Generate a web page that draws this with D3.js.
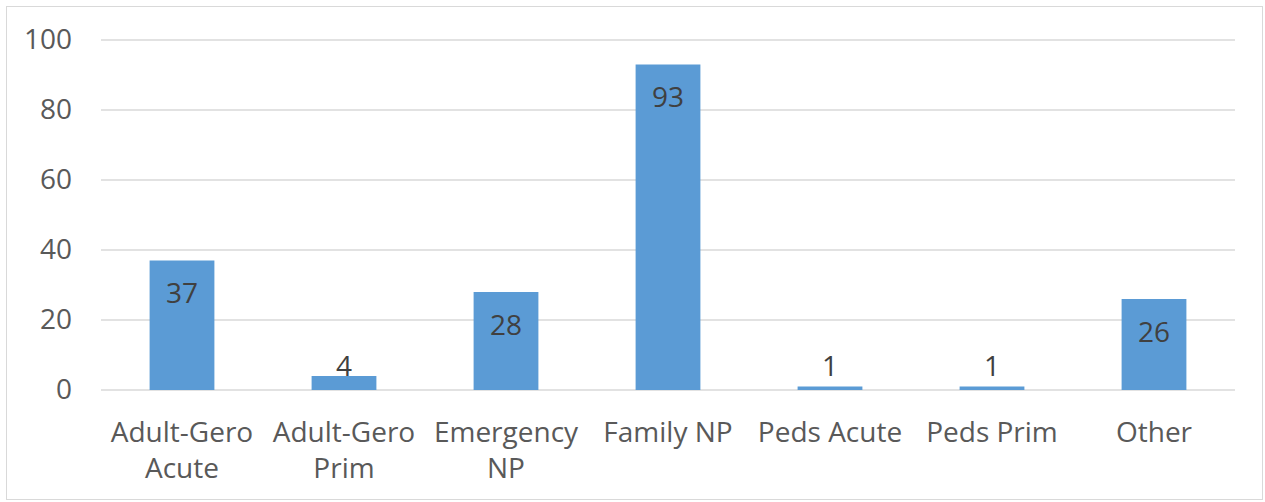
<!DOCTYPE html>
<html>
<head>
<meta charset="utf-8">
<script src="https://cdn.jsdelivr.net/npm/d3@7"></script>
<style>
  body { margin: 0; background: #fff; }
  text { font-family: "Open Sans", sans-serif; }
</style>
</head>
<body>
<script>
var categories = [ ["Adult-Gero", "Acute"], ["Adult-Gero", "Prim"], ["Emergency", "NP"], ["Family NP"], ["Peds Acute"], ["Peds Prim"], ["Other"] ];
var values = [ 37, 4, 28, 93, 1, 1, 26 ];
var yTicks = [ 0, 20, 40, 60, 80, 100 ];

var width = 1265, height = 502;
var plotLeft = 101, plotRight = 1235, plotTop = 40, plotBottom = 390;

var svg = d3.select( "body" )
            .append( "svg" )
              .attr( "width", width )
              .attr( "height", height );

// chart border
svg.append( "rect" )
  .attr( "x", 6.5 ).attr( "y", 6.5 )
  .attr( "width", 1256 ).attr( "height", 493 )
  .attr( "fill", "none" )
  .attr( "stroke", "#d9d9d9" );

var x = d3.scaleBand()
  .domain( d3.range( values.length ) )
  .range( [ plotLeft, plotRight ] )
  .padding( 0 );

var y = d3.scaleLinear()
  .domain( [ 0, 100 ] )
  .range( [ plotBottom, plotTop ] );

// gridlines
svg.append( "g" )
  .selectAll( "line" )
  .data( yTicks )
  .enter()
  .append( "line" )
    .attr( "x1", plotLeft ).attr( "x2", plotRight )
    .attr( "y1", function(d){ return y(d); } )
    .attr( "y2", function(d){ return y(d); } )
    .attr( "stroke", "#d9d9d9" )
    .attr( "stroke-width", 1.5 );

// y axis labels
var yAxis = d3.axisLeft( y ).tickValues( yTicks ).tickSize( 0 ).tickPadding( 29 );
var gy = svg.append( "g" )
  .attr( "transform", "translate(" + plotLeft + ",0)" )
  .call( yAxis );
gy.select( ".domain" ).remove();
gy.selectAll( "text" )
  .attr( "fill", "#595959" )
  .style( "font-family", "Open Sans, sans-serif" )
  .style( "font-size", "28px" );

// bars, gap width 150%
var barW = x.bandwidth() / 2.5;
svg.append( "g" )
  .selectAll( "rect" )
  .data( values )
  .enter()
  .append( "rect" )
    .attr( "x", function(d,i){ return x(i) + ( x.bandwidth() - barW ) / 2; } )
    .attr( "y", function(d){ return y(d); } )
    .attr( "width", barW )
    .attr( "height", function(d){ return y(0) - y(d); } )
    .attr( "fill", "#5b9bd5" );

// data labels (inside end, kept above the axis)
svg.append( "g" )
  .selectAll( "text" )
  .data( values )
  .enter()
  .append( "text" )
    .attr( "x", function(d,i){ return x(i) + x.bandwidth() / 2; } )
    .attr( "y", function(d){ return Math.min( y(d) + 33, y(0) - 24 ); } )
    .attr( "dy", "0.35em" )
    .attr( "text-anchor", "middle" )
    .attr( "fill", "#404040" )
    .style( "font-size", "28px" )
    .text( function(d){ return d; } );

// category labels
var cat = svg.append( "g" )
  .selectAll( "text" )
  .data( categories )
  .enter()
  .append( "text" )
    .attr( "text-anchor", "middle" )
    .attr( "fill", "#595959" )
    .style( "font-size", "28px" )
    .attr( "transform", function(d,i){ return "translate(" + ( x(i) + x.bandwidth() / 2 ) + ",432)"; } );

cat.selectAll( "tspan" )
  .data( function(d){ return d; } )
  .enter()
  .append( "tspan" )
    .attr( "x", 0 )
    .attr( "y", function(d,i){ return i * 36; } )
    .attr( "dy", "0.35em" )
    .text( function(d){ return d; } );
</script>
</body>
</html>
